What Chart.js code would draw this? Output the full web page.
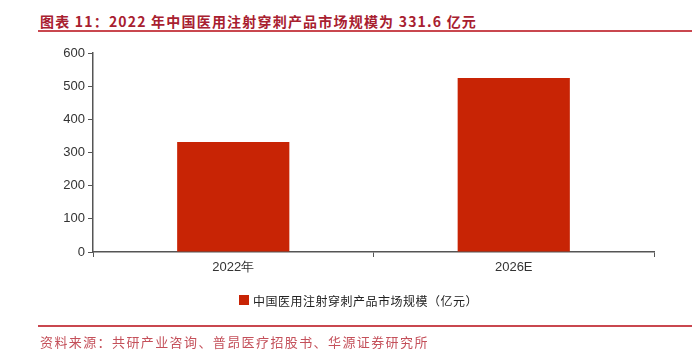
<!DOCTYPE html>
<html><head><meta charset="utf-8">
<script src="https://cdn.jsdelivr.net/npm/chart.js@4.4.1/dist/chart.umd.min.js"></script>
<style>
html,body{margin:0;padding:0;background:#fff;width:692px;height:359px;overflow:hidden;position:relative;}
#title{position:absolute;left:40px;top:11px;font-family:"Noto Sans CJK SC";font-weight:bold;font-size:14px;line-height:20px;letter-spacing:1.2px;color:#A8202F;white-space:nowrap;}
#tline{position:absolute;left:38px;top:30px;width:654px;height:2px;background:#C9474F;}
#bline{position:absolute;left:38px;top:325px;width:654px;height:2px;background:#C9474F;}
#source{position:absolute;left:40px;top:332px;font-family:"Noto Sans CJK SC";font-size:13px;line-height:20px;letter-spacing:1.4px;color:#C4505A;white-space:nowrap;}
#legend{position:absolute;left:239px;top:290px;height:20px;font-family:"Noto Sans CJK SC";font-size:12px;letter-spacing:0.5px;color:#222;white-space:nowrap;display:flex;align-items:center;}
#legend span.box{display:inline-block;width:10px;height:10px;margin-right:4px;}
canvas{position:absolute;left:0;top:0;}
</style></head>
<body>
<div id="title">图表 11：2022 年中国医用注射穿刺产品市场规模为 331.6 亿元</div>
<div id="tline"></div>
<canvas id="c" width="692" height="359"></canvas>
<div id="legend"></div>
<div id="bline"></div>
<div id="source">资料来源：共研产业咨询、普昂医疗招股书、华源证券研究所</div>
<script>
const categories = ["2022年", "2026E"];
const seriesName = "中国医用注射穿刺产品市场规模（亿元）";
const seriesValues = [331.6, 525];
const yTicks = [0, 100, 200, 300, 400, 500, 600];
const barColor = "#C82405";

const lg = document.getElementById('legend');
lg.innerHTML = '<span class="box" style="background:' + barColor + '"></span><span>' + seriesName + '</span>';

new Chart(document.getElementById('c'), {
  type: 'bar',
  data: {
    labels: categories,
    datasets: [{ label: seriesName, data: seriesValues, backgroundColor: barColor,
      categoryPercentage: 0.8, barPercentage: 0.5 }]
  },
  options: {
    responsive: false, animation: false,
    layout: { padding: { top: 53, left: 0, right: 38, bottom: 77 } },
    plugins: { legend: { display: false }, tooltip: { enabled: false } },
    scales: {
      x: {
        grid: { offset: true, drawOnChartArea: false, drawTicks: true, tickLength: 5, color: '#555' },
        border: { color: '#555', width: 1.5 },
        ticks: { color: '#333', font: { family: 'Liberation Sans', size: 13 }, padding: 3 },
        afterFit: s => { s.height = 30; }
      },
      y: {
        min: 0, max: 600,
        afterBuildTicks: s => { s.ticks = yTicks.map(v => ({ value: v })); },
        grid: { drawOnChartArea: false, drawTicks: true, tickLength: 5, color: '#555' },
        border: { color: '#555', width: 1.5 },
        ticks: { color: '#333', font: { family: 'Liberation Sans', size: 13 }, padding: 3 },
        afterFit: s => { s.width = 93; }
      }
    }
  }
});
</script>
</body></html>
